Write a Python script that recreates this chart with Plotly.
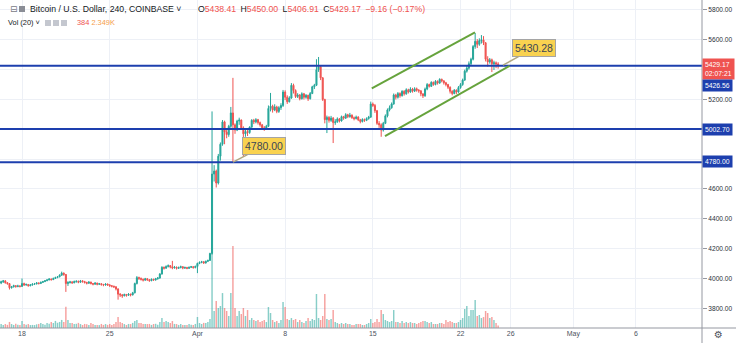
import pandas as pd
import plotly.graph_objects as go

# ---------------- data (4h candles, COINBASE BTC/USD) ----------------
first_open = 3970
closes = [
    3978, 3984, 3972, 3966,                      # Mar 16 (08..20)
    3938, 3944, 3952, 3946, 3950, 3947,          # Mar 17
    3966, 3956, 3960, 3951, 3957, 3962,          # Mar 18
    3964, 3970, 3966, 3974, 3979, 3985,          # Mar 19
    3990, 3996, 3992, 4000, 4006, 4011,          # Mar 20
    4022, 4036, 4027, 3966, 3973, 3977,          # Mar 21
    3971, 3979, 3981, 3975, 3984, 3979,          # Mar 22
    3973, 3968, 3976, 3966, 3962, 3969,          # Mar 23
    3961, 3965, 3959, 3956, 3963, 3957,          # Mar 24
    3951, 3948, 3944, 3930, 3895, 3890,          # Mar 25
    3884, 3893, 3887, 3895, 3890, 3904,          # Mar 26
    3966, 4006, 4001, 3994, 3989, 3998,          # Mar 27
    3992, 3985, 3995, 3990, 3998, 4003,          # Mar 28
    4030, 4075, 4069, 4080, 4086, 4078,          # Mar 29
    4071, 4076, 4068, 4073, 4079, 4070,          # Mar 30
    4073, 4068, 4075, 4079, 4073, 4081,          # Mar 31
    4101, 4108, 4112, 4104, 4115, 4121,          # Apr 1
    4168, 4700, 4720, 4640, 4820, 4900,          # Apr 2
    5050, 4982, 4965, 5020, 5110, 5030,          # Apr 3
    4995, 5055, 5062, 5010, 4970, 4985,          # Apr 4
    4978, 5015, 5060, 5050, 5065, 5045,          # Apr 5
    5030, 5010, 5005, 5020, 5140, 5155,          # Apr 6
    5130, 5150, 5120, 5145, 5160, 5250,          # Apr 7
    5215, 5185, 5210, 5295, 5260, 5220,          # Apr 8
    5230, 5205, 5238, 5215, 5228, 5205,          # Apr 9
    5240, 5285, 5295, 5400, 5420, 5345,          # Apr 10
    5200, 5065, 5080, 5060, 5075, 5045,          # Apr 11
    5050, 5070, 5056, 5085, 5075, 5098,          # Apr 12
    5085, 5095, 5078, 5072, 5082, 5064,          # Apr 13
    5052, 5066, 5060, 5072, 5082, 5170,          # Apr 14
    5160, 5125, 5040, 5030, 4995, 5040,          # Apr 15
    5090, 5130, 5145, 5170, 5230, 5215,          # Apr 16
    5240, 5225, 5255, 5238, 5265, 5250,          # Apr 17
    5270, 5256, 5272, 5262, 5258, 5238,          # Apr 18
    5225, 5270, 5300, 5288, 5315, 5300,          # Apr 19
    5322, 5310, 5335, 5325, 5312, 5300,          # Apr 20
    5282, 5255, 5240, 5262, 5250, 5280,          # Apr 21
    5300, 5330, 5390, 5410, 5440, 5470,          # Apr 22
    5555, 5590, 5570, 5595, 5600, 5580,          # Apr 23
    5470, 5452, 5466, 5440, 5446, 5438.41,       # Apr 24
    5429.17,                                     # Apr 25 00:00
]
highs = [
    3985, 3990, 3988, 3976,
    3968, 3950, 3958, 3955, 3958, 3954,
    4000, 3972, 3966, 3962, 3962, 3968,
    3970, 3976, 3974, 3980, 3984, 3990,
    3996, 4002, 4000, 4006, 4012, 4016,
    4028, 4046, 4040, 4030, 3982, 3984,
    3982, 3986, 3988, 3986, 3990, 3988,
    3984, 3978, 3982, 3978, 3970, 3975,
    3972, 3970, 3968, 3964, 3968, 3966,
    3962, 3956, 3952, 3948, 3934, 3902,
    3896, 3898, 3896, 3902, 3898, 3910,
    3972, 4016, 4012, 4006, 4000, 4004,
    4002, 3996, 4000, 3998, 4004, 4010,
    4036, 4082, 4080, 4088, 4094, 4090,
    4118, 4084, 4080, 4080, 4086, 4082,
    4080, 4078, 4080, 4084, 4082, 4086,
    4106, 4114, 4118, 4116, 4120, 4126,
    4172, 5120, 4760, 4730, 4835, 4912,
    5062, 5058, 5000, 5030, 5150, 5345,
    5040, 5064, 5078, 5066, 5020, 5000,
    4995, 5020, 5068, 5070, 5075, 5070,
    5052, 5036, 5022, 5030, 5160, 5244,
    5165, 5168, 5158, 5155, 5175, 5264,
    5262, 5228, 5222, 5310, 5306, 5268,
    5242, 5236, 5248, 5244, 5236, 5232,
    5250, 5292, 5305, 5470, 5485, 5425,
    5350, 5205, 5092, 5088, 5090, 5082,
    5068, 5080, 5076, 5092, 5090, 5108,
    5104, 5110, 5100, 5086, 5092, 5088,
    5070, 5074, 5072, 5080, 5090, 5186,
    5180, 5170, 5130, 5055, 5040, 5050,
    5100, 5140, 5160, 5180, 5240, 5238,
    5250, 5248, 5262, 5262, 5275, 5272,
    5282, 5278, 5282, 5280, 5270, 5262,
    5240, 5280, 5310, 5306, 5322, 5320,
    5330, 5328, 5342, 5340, 5328, 5318,
    5305, 5288, 5262, 5270, 5268, 5290,
    5310, 5340, 5400, 5425, 5455, 5480,
    5565, 5646, 5605, 5610, 5632, 5625,
    5585, 5490, 5478, 5474, 5460, 5455,
    5450.00,
]
lows = [
    3962, 3970, 3965, 3958,
    3926, 3932, 3940, 3938, 3941, 3940,
    3944, 3950, 3952, 3945, 3948, 3952,
    3956, 3960, 3960, 3964, 3970, 3976,
    3982, 3988, 3986, 3990, 3998, 4002,
    4008, 4018, 4018, 3910, 3950, 3966,
    3964, 3968, 3972, 3968, 3972, 3972,
    3966, 3960, 3964, 3960, 3954, 3958,
    3954, 3956, 3952, 3948, 3952, 3950,
    3944, 3940, 3936, 3920, 3858, 3876,
    3870, 3880, 3878, 3884, 3880, 3886,
    3900, 3960, 3990, 3986, 3980, 3984,
    3984, 3978, 3982, 3984, 3986, 3992,
    3998, 4026, 4060, 4066, 4074, 4068,
    4062, 4066, 4060, 4064, 4068, 4062,
    4064, 4062, 4064, 4070, 4066, 4068,
    4036, 4096, 4102, 4098, 4100, 4110,
    4118, 4160, 4650, 4610, 4630, 4790,
    4890, 4900, 4940, 4950, 5010, 4780,
    4970, 4988, 5030, 4996, 4815, 4950,
    4955, 4970, 5010, 5035, 5040, 5032,
    5018, 4998, 4990, 5000, 5015, 5120,
    5112, 5122, 5108, 5110, 5130, 5150,
    5196, 5170, 5180, 5205, 5240, 5210,
    5210, 5194, 5200, 5200, 5205, 5190,
    5200, 5236, 5270, 5290, 5385, 5330,
    5190, 5040, 4975, 5045, 5050, 4908,
    5030, 5044, 5046, 5052, 5064, 5070,
    5075, 5078, 5070, 5060, 5066, 5055,
    5040, 5046, 5050, 5055, 5065, 5076,
    5150, 5110, 5030, 5010, 4950, 4985,
    5035, 5080, 5120, 5138, 5165, 5200,
    5206, 5212, 5220, 5226, 5232, 5240,
    5245, 5246, 5250, 5252, 5245, 5222,
    5210, 5218, 5262, 5280, 5284, 5292,
    5295, 5300, 5305, 5315, 5300, 5288,
    5270, 5240, 5228, 5235, 5236, 5245,
    5272, 5292, 5325, 5380, 5400, 5430,
    5462, 5540, 5545, 5560, 5575, 5565,
    5455, 5420, 5440, 5384, 5398, 5410,
    5406.91,
]
volumes = [
    610, 470, 600, 480,
    920, 600, 470, 640, 500, 450,
    1080, 620, 480, 600, 450, 470,
    450, 560, 620, 780, 600, 480,
    780, 640, 920, 760, 1080, 800,
    920, 1230, 930, 3230, 1230, 770,
    760, 610, 640, 780, 600, 460,
    620, 590, 470, 770, 610, 450,
    460, 440, 620, 470, 600, 480,
    610, 470, 620, 930, 1680, 900,
    770, 600, 460, 620, 600, 780,
    1060, 1220, 770, 760, 620, 600,
    600, 620, 470, 610, 640, 480,
    920, 1530, 900, 1070, 930, 760,
    1060, 620, 600, 470, 610, 460,
    470, 450, 610, 480, 460, 620,
    1680, 760, 610, 780, 760, 920,
    1370, 11800, 2590, 4110, 3050, 3350,
    5330, 3050, 2590, 1830, 5330, 12500,
    3050, 1830, 2590, 2130, 3050, 1830,
    2740, 1220, 1520, 1220, 1070, 1220,
    910, 1070, 1220, 910, 3200, 2290,
    1220, 910, 1070, 760, 1220, 3960,
    3200, 1370, 1220, 1520, 1220, 1370,
    910, 1220, 910, 760, 1070, 1520,
    1070, 1370, 1220, 5180, 1520, 1220,
    1830, 5180, 1370, 1220, 1370, 2740,
    910, 760, 610, 760, 610, 760,
    610, 610, 460, 460, 610, 610,
    610, 460, 460, 610, 760, 1370,
    760, 910, 1370, 910, 2740, 2130,
    1220, 1070, 910, 1070, 2740, 910,
    910, 760, 1070, 760, 910, 760,
    910, 760, 760, 610, 760, 910,
    1070, 1070, 910, 760, 910, 610,
    610, 610, 760, 760, 610, 1220,
    910, 1070, 910, 760, 760, 910,
    1220, 1520, 2900, 3350, 1830, 2740,
    2740, 4270, 1830, 1980, 1520, 1670,
    2590, 2290, 1520, 1670, 1220, 760,
    384,
]
first_bar = "2019-03-16 08:00"

levels = [5426.56, 5002.70, 4780.00]
channel_upper_t = ["2019-04-14 22:00", "2019-04-23 03:40"]
channel_upper_p = [5275, 5650]
channel_lower_t = ["2019-04-15 23:20", "2019-04-25 22:00"]
channel_lower_p = [4955, 5425]
callout_t = ["2019-04-03 20:00", "2019-04-25 09:20"]
callout_p = [4780.00, 5430.28]

price_ticks = [3800, 4000, 4200, 4400, 4600, 4800, 5000, 5200, 5400, 5600, 5800]
hidden_ticks = [4800, 5000, 5400]          # covered by price labels in the reference
time_tickvals = ["2019-03-18", "2019-03-25", "2019-04-01", "2019-04-08", "2019-04-15",
                 "2019-04-22", "2019-04-26", "2019-05-01", "2019-05-06"]
time_ticktext = ["18", "25", "Apr", "8", "15", "22", "26", "May", "6"]

# ---------------- derived ----------------
times = pd.date_range(first_bar, periods=len(closes), freq="4h")
opens = [first_open] + closes[:-1]
highs = [max(h, o, c) for h, o, c in zip(highs, opens, closes)]
lows = [min(l, o, c) for l, o, c in zip(lows, opens, closes)]

UP = "#26a69a"
DN = "#ef5350"
vol_colors = ["rgba(38,166,154,0.55)" if c >= o else "rgba(239,83,80,0.55)"
              for o, c in zip(opens, closes)]

W, H = 736, 343
ML, MR, MT, MB = 0, 34, 0, 15
PW, PH = W - ML - MR, H - MT - MB
FONT = "Liberation Sans, Arial, sans-serif"
BLUE = "#1d3fae"


def px(x):
    return x / PW


def py(y):
    return 1 - y / PH


fig = go.Figure()
fig.add_trace(go.Bar(
    x=times, y=volumes, marker=dict(color=vol_colors, line=dict(width=0)),
    width=4 * 3600 * 1000 * 0.7, yaxis="y", xaxis="x", hoverinfo="skip",
))
fig.add_trace(go.Candlestick(
    x=times, open=opens, high=highs, low=lows, close=closes,
    yaxis="y2", xaxis="x", whiskerwidth=0,
    increasing=dict(line=dict(color=UP, width=1), fillcolor=UP),
    decreasing=dict(line=dict(color=DN, width=1), fillcolor=DN),
    hoverinfo="skip",
))

shapes = []
for lv in levels:
    shapes.append(dict(type="line", xref="paper", x0=0, x1=1, yref="y2", y0=lv, y1=lv,
                       line=dict(color=BLUE, width=2)))
shapes.append(dict(type="line", xref="x", yref="y2",
                   x0=channel_upper_t[0], x1=channel_upper_t[1],
                   y0=channel_upper_p[0], y1=channel_upper_p[1],
                   line=dict(color="#66a33c", width=2)))
shapes.append(dict(type="line", xref="x", yref="y2",
                   x0=channel_lower_t[0], x1=channel_lower_t[1],
                   y0=channel_lower_p[0], y1=channel_lower_p[1],
                   line=dict(color="#66a33c", width=2)))
# frame separators
shapes.append(dict(type="line", xref="paper", yref="paper", x0=1, x1=1, y0=-MB / PH, y1=1,
                   line=dict(color="#9598a1", width=1)))
shapes.append(dict(type="line", xref="paper", yref="paper", x0=0, x1=W / PW, y0=0, y1=0,
                   line=dict(color="#9598a1", width=1)))
# header icons
shapes.append(dict(type="rect", xref="paper", yref="paper", x0=px(19), x1=px(25),
                   y0=py(12), y1=py(6), fillcolor="#8a8d96", line=dict(width=0)))
for x0 in (45, 53, 61):
    shapes.append(dict(type="rect", xref="paper", yref="paper", x0=px(x0), x1=px(x0 + 6),
                       y0=py(26), y1=py(20), fillcolor="#c4c7cf", line=dict(width=0)))

ann = []
red = "#ef5350"
ann.append(dict(xref="paper", yref="paper", x=px(8), y=py(9), xanchor="left", yanchor="middle",
                text="⊟", showarrow=False, font=dict(size=9, color="#787b86", family="DejaVu Sans")))
ann.append(dict(xref="paper", yref="paper", x=px(28), y=py(9), xanchor="left", yanchor="middle",
                text="Bitcoin / U.S. Dollar, 240, COINBASE ˅", showarrow=False,
                font=dict(size=8.7, color="#131722", family=FONT)))
sp = "\u2002"
ohlc = (f"O<span style='color:{red}'>5438.41</span>{sp}H<span style='color:{red}'>5450.00</span>{sp}"
        f"L<span style='color:{red}'>5406.91</span>{sp}C<span style='color:{red}'>5429.17</span>{sp}"
        f"<span style='color:{red}'>−9.16 (−0.17%)</span>")
ann.append(dict(xref="paper", yref="paper", x=px(196), y=py(9), xanchor="left", yanchor="middle",
                text=ohlc, showarrow=False, font=dict(size=8.7, color="#131722", family=FONT)))
ann.append(dict(xref="paper", yref="paper", x=px(6), y=py(23), xanchor="left", yanchor="middle",
                text="Vol (20) ˅", showarrow=False, font=dict(size=7.4, color="#131722", family=FONT)))
ann.append(dict(xref="paper", yref="paper", x=px(75), y=py(23), xanchor="left", yanchor="middle",
                text=f"<span style='color:{red}'>384</span> <span style='color:#f59c4a'>2.349K</span>",
                showarrow=False, font=dict(size=7.4, family=FONT)))

# callouts
for t, p, ax, ay in zip(callout_t, callout_p, [31, 31], [-16, -17]):
    ann.append(dict(xref="x", yref="y2", x=t, y=p, text=f"{p:.2f}", showarrow=True,
                    ax=ax, ay=ay, arrowhead=0, arrowwidth=1.5, arrowcolor="#b0a782",
                    bgcolor="#f9d250", bordercolor="#a5a5a5", borderwidth=1, borderpad=2,
                    font=dict(size=10.5, color="#3b4656", family=FONT)))

# right-axis price labels
def plabel(text, ycenter_px, bg):
    yv = 5800 - (ycenter_px - 10) * 6.704
    return dict(xref="paper", yref="y2", x=1, y=yv, xanchor="left", yanchor="middle",
                text=text, showarrow=False, bgcolor=bg, borderpad=2,
                font=dict(size=6.8, color="white", family=FONT), align="left")

ann.append(plabel("5429.17<br>02:07:21", 69.5, "#ef5350"))
ann.append(plabel("5426.56", 85.5, BLUE))
ann.append(plabel(f"{levels[1]:.2f}", 129.3, BLUE))
ann.append(plabel(f"{levels[2]:.2f}", 162, BLUE))
ann.append(dict(xref="paper", yref="paper", x=(718) / PW, y=py(335), xanchor="center", yanchor="middle",
                text="⚙", showarrow=False, font=dict(size=10, color="#50535e", family="DejaVu Sans")))

fig.update_layout(
    width=W, height=H, margin=dict(l=ML, r=MR, t=MT, b=MB),
    paper_bgcolor="white", plot_bgcolor="white", showlegend=False,
    hovermode=False, shapes=shapes, annotations=ann,
    xaxis=dict(type="date", range=["2019-03-16 05:50", "2019-05-11 06:30"],
               tickvals=time_tickvals, ticktext=time_ticktext,
               tickfont=dict(size=7, color="#4c525e", family=FONT),
               showgrid=True, gridcolor="#edf0f6", gridwidth=1,
               showline=False, ticks="", rangeslider=dict(visible=False), fixedrange=True),
    yaxis=dict(range=[0, 50000], visible=False, showgrid=False, fixedrange=True),
    yaxis2=dict(overlaying="y", side="right", range=[3668, 5867],
                tickvals=price_ticks,
                ticktext=["" if v in hidden_ticks else f"{v:.2f}" for v in price_ticks],
                tickfont=dict(size=6.6, color="#2a2e39", family=FONT),
                showgrid=True, gridcolor="#edf0f6", gridwidth=1,
                ticks="outside", ticklen=4, tickcolor="#9598a1",
                showline=False, zeroline=False, fixedrange=True),
)

fig.write_html("out.html", config={"displayModeBar": False})
